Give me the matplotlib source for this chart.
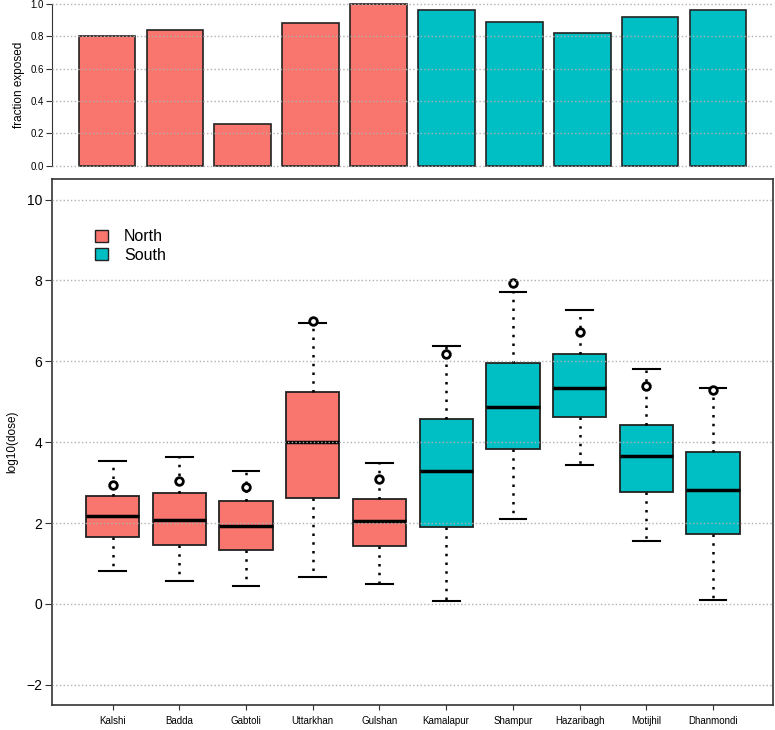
import matplotlib
matplotlib.use('Agg')
import matplotlib.pyplot as plt
from matplotlib.patches import Patch
import numpy as np

# Data
sites = ['Kalshi', 'Badda', 'Gabtoli', 'Uttarkhan', 'Gulshan',
         'Kamalapur', 'Shampur', 'Hazaribagh', 'Motijhil', 'Dhanmondi']
region = ['North'] * 5 + ['South'] * 5
frac_exposed = [0.80, 0.84, 0.26, 0.88, 1.00, 0.96, 0.89, 0.82, 0.92, 0.96]

whis_lo = [0.81, 0.56, 0.44, 0.67, 0.50, 0.06, 2.11, 3.43, 1.56, 0.09]
q1 = [1.66, 1.46, 1.33, 2.62, 1.44, 1.91, 3.82, 4.62, 2.77, 1.72]
median = [2.17, 2.07, 1.92, 4.01, 2.04, 3.28, 4.86, 5.35, 3.66, 2.81]
q3 = [2.68, 2.74, 2.54, 5.23, 2.60, 4.57, 5.95, 6.17, 4.42, 3.76]
whis_hi = [3.54, 3.64, 3.29, 6.95, 3.49, 6.37, 7.72, 7.28, 5.81, 5.34]
mean_dose = [2.95, 3.03, 2.88, 7.00, 3.08, 6.18, 7.94, 6.73, 5.38, 5.28]

colors = {'North': '#F8766D', 'South': '#00BFC4'}
grid_col = '#b0b0b0'

plt.rcParams['font.family'] = ['Liberation Sans', 'DejaVu Sans']

fig = plt.figure(figsize=(7.75, 7.3), dpi=100)

# ---- top panel: fraction exposed ----
ax1 = fig.add_axes([52 / 775, 1 - 168.9 / 730, 721 / 775, 168.1 / 730])
bar_x = 0.7 + 1.2 * np.arange(len(sites))
ax1.bar(bar_x, frac_exposed, width=1.0, color=[colors[r] for r in region],
        edgecolor='#222222', linewidth=1.2, zorder=2)
ax1.set_xlim(-0.27, 12.47)
ax1.set_ylim(-0.02, 1.02)
ax1.set_yticks(np.arange(0, 1.01, 0.2))
ax1.set_yticklabels(['%.1f' % v for v in np.arange(0, 1.01, 0.2)], fontsize=7)
for v in np.arange(0, 1.01, 0.2):
    ax1.axhline(v, color=grid_col, linestyle=':', linewidth=1, zorder=3)
ax1.set_xticks([])
for s in ['top', 'right', 'bottom']:
    ax1.spines[s].set_visible(False)
ax1.spines['left'].set_bounds(0, 1)
ax1.spines['left'].set_color('#333333')
ax1.tick_params(axis='y', length=4, pad=2, color='#333333')
ax1.set_ylabel('fraction exposed', fontsize=8.5, labelpad=4)

# ---- bottom panel: log10(dose) boxplots ----
ax2 = fig.add_axes([52 / 775, 1 - 705 / 730, 721 / 775, 525.7 / 730])
pos = np.arange(1, len(sites) + 1)
stats = []
for i, name in enumerate(sites):
    stats.append(dict(label=name, whislo=whis_lo[i], q1=q1[i], med=median[i],
                      q3=q3[i], whishi=whis_hi[i], mean=mean_dose[i], fliers=[]))
bp = ax2.bxp(stats, positions=pos, widths=0.8, patch_artist=True,
             showmeans=True, capwidths=0.4,
             boxprops=dict(edgecolor='#222222', linewidth=1.3),
             medianprops=dict(color='black', linewidth=2.5),
             whiskerprops=dict(color='black', linestyle=(0, (1, 2.5)), linewidth=1.8),
             capprops=dict(color='black', linewidth=1.5),
             meanprops=dict(marker='o', markerfacecolor='white',
                            markeredgecolor='black', markeredgewidth=2,
                            markersize=5.5))
for patch, r in zip(bp['boxes'], region):
    patch.set_facecolor(colors[r])
for v in range(-2, 11, 2):
    ax2.axhline(v, color=grid_col, linestyle=':', linewidth=1, zorder=3)
ax2.set_xlim(0.09, 10.9)
ax2.set_ylim(-2.5, 10.5)
ax2.set_yticks(range(-2, 11, 2))
ax2.set_yticklabels([str(v) if v >= 0 else '\u22122' for v in range(-2, 11, 2)],
                    fontsize=10)
ax2.set_xticks(pos)
ax2.set_xticklabels(sites, fontsize=7)
ax2.tick_params(axis='y', length=5, pad=2, color='#333333')
ax2.tick_params(axis='x', length=3.5, pad=4.5, color='#333333')
for s in ax2.spines.values():
    s.set_color('#333333')
    s.set_linewidth(1.2)
ax2.set_ylabel('log10(dose)', fontsize=8.5, labelpad=6)

handles = [Patch(facecolor=colors[r], edgecolor='#222222', label=r)
           for r in ['North', 'South']]
ax2.legend(handles=handles, loc='upper left', bbox_to_anchor=(0.04, 0.932),
           frameon=False, fontsize=11.5, handlelength=0.8, handleheight=0.8,
           handletextpad=1.0, labelspacing=0.2)

fig.savefig('out.png', dpi=100)
